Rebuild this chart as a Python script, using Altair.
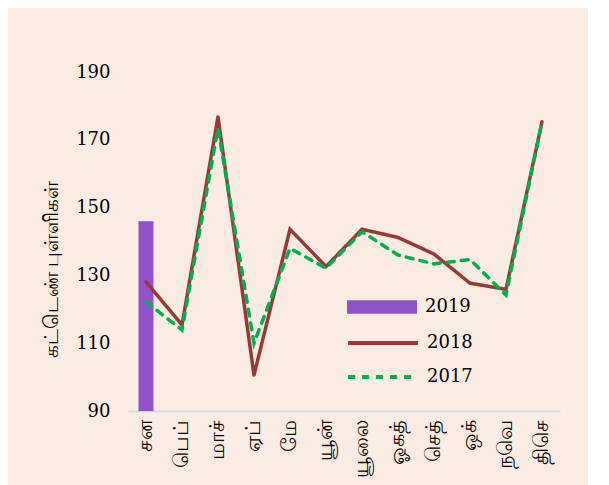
import altair as alt
import pandas as pd

months = ["சன", "பெப்", "மாச்", "ஏப்", "மே", "யூன்", "யூலை", "ஓகத்", "செத்", "ஒக்", "நவெ", "திசெ"]
v2019 = [146]
v2018 = [128.1, 115.4, 176.8, 100.6, 143.6, 132.6, 143.6, 141.2, 136.3, 127.7, 125.9, 175.3]
v2017 = [122.2, 113.9, 173.4, 110.0, 138.0, 132.1, 142.9, 136.0, 133.4, 134.7, 124.2, 175.3]
y_ticks = [90, 110, 130, 150, 170, 190]

bar_df = pd.DataFrame({"month": months[:len(v2019)], "value": v2019, "series": "2019"})
line_df = pd.concat([
    pd.DataFrame({"month": months, "value": v2018, "series": "2018", "order": range(12)}),
    pd.DataFrame({"month": months, "value": v2017, "series": "2017", "order": range(12)}),
])

tamil_font = "Noto Sans"
serif = "DejaVu Serif"

x_enc = alt.X("month:N", sort=months, scale=alt.Scale(domain=months, paddingInner=0.58, paddingOuter=0.29),
              axis=alt.Axis(title=None, labelAngle=-90, labelFont=tamil_font, labelFontSize=21,
                            labelColor="#000000", ticks=False, domainColor="#D0D7DE", domainWidth=1.5,
                            labelPadding=8, labelBaseline="middle", labelAlign="right"))
y_scale = alt.Scale(domain=[90, 190], nice=False, zero=False)
y_axis = alt.Axis(title="கட்டெண்  புள்ளிகள்", values=y_ticks, grid=False, ticks=False, domain=False,
                  labelFont=serif, labelFontSize=18, labelColor="#000000", labelPadding=18,
                  titleFont=tamil_font, titleFontSize=20, titleFontWeight="normal", titleColor="#000000",
                  titlePadding=14, titleY=197)

leg_text = dict(title=None, orient="none", labelFont=serif, labelFontSize=18, labelColor="#000000")

bars = alt.Chart(bar_df).mark_bar(size=15, clip=True).encode(
    x=x_enc,
    y=alt.Y("value:Q", scale=y_scale, axis=y_axis),
    fill=alt.Fill("series:N", scale=alt.Scale(domain=["2019"], range=["#9052CB"]),
                  legend=alt.Legend(legendX=218, legendY=199, symbolType="M-1,-0.19H1V0.19H-1Z",
                                    symbolSize=4900, labelOffset=7, **leg_text)),
)

dash_range = [[1, 0], [7, 7]]
line_leg = alt.Legend(legendX=235.5, legendY=251.5, symbolType="M-2,0H2", symbolSize=1225,
                      symbolStrokeWidth=4, symbolFillColor="transparent", rowPadding=5,
                      labelOffset=24.5, **leg_text)
lines = alt.Chart(line_df).mark_line(strokeWidth=3.5, strokeCap="round").encode(
    x=x_enc,
    y=alt.Y("value:Q", scale=y_scale, axis=y_axis),
    order="order:Q",
    stroke=alt.Stroke("series:N", scale=alt.Scale(domain=["2018", "2017"], range=["#963A38", "#00B050"]),
                      legend=line_leg),
    strokeDash=alt.StrokeDash("series:N", scale=alt.Scale(domain=["2018", "2017"], range=dash_range),
                              legend=line_leg),
)

chart = alt.layer(bars, lines).properties(
    width=432, height=339,
    autosize=alt.AutoSizeParams(type="none"),
    padding={"left": 120, "top": 64, "right": 28, "bottom": 74},
    background="#FBECE3",
).configure_view(stroke=None)

chart.save("out.html", embed_options={"renderer": "svg", "actions": False})
